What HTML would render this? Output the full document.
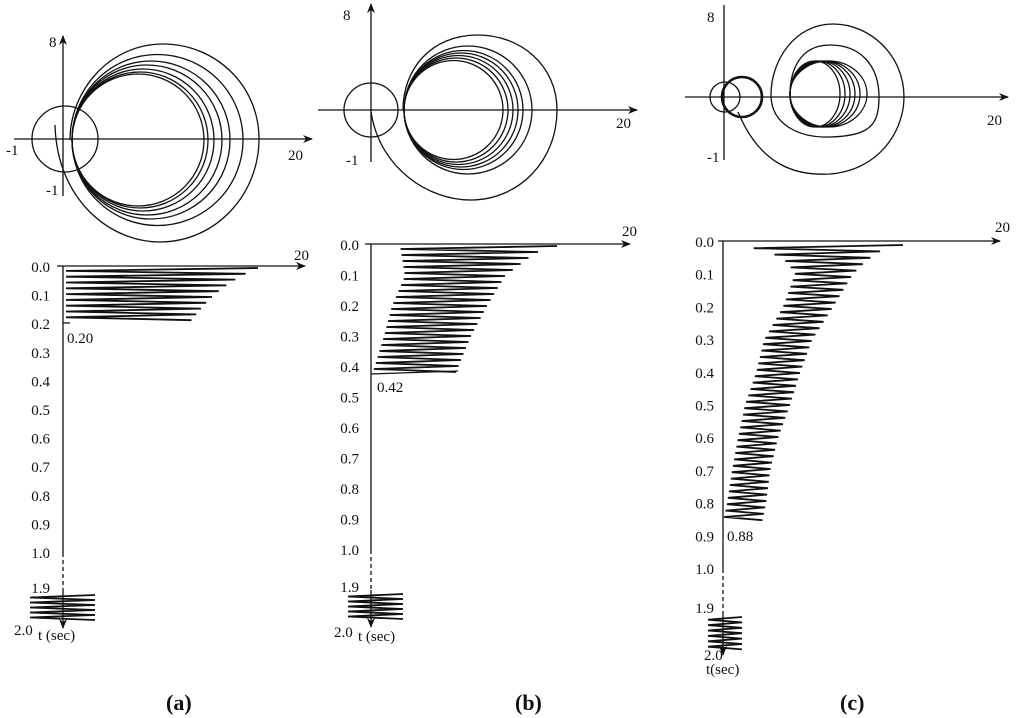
<!DOCTYPE html>
<html><head><meta charset="utf-8"><style>
html,body{margin:0;padding:0;background:#fff;}
svg{display:block;}
text{font-family:"Liberation Serif",serif;fill:#111;}
</style></head><body>
<svg id="s" width="1024" height="718" viewBox="0 0 1024 718" xmlns="http://www.w3.org/2000/svg">
<defs><marker id="ar" markerWidth="10" markerHeight="8" refX="9" refY="4" orient="auto" markerUnits="userSpaceOnUse"><path d="M0,0 L10,4 L0,8 L3,4 z" fill="#111"/></marker></defs>
<g fill="none" stroke="#111" stroke-width="1.3">
<!-- (a) top -->
<line x1="63" y1="196" x2="63" y2="36" marker-end="url(#ar)"/>
<line x1="14" y1="139" x2="312" y2="139" marker-end="url(#ar)"/>
<circle cx="65" cy="139" r="33"/>
<path d="M55,125 C57,200 110,242 160,242 C215,242 259,195 259,139 C259,85 215,44 163,44 C110,44 70,90 70,140"/>
<circle cx="157.5" cy="140" r="85.5"/><circle cx="151" cy="140" r="79"/><circle cx="147" cy="140" r="75"/>
<circle cx="143" cy="140" r="71"/><circle cx="140" cy="140" r="68"/><circle cx="138" cy="140" r="66"/>
<!-- (b) top -->
<line x1="371" y1="162" x2="371" y2="4" marker-end="url(#ar)"/>
<line x1="318" y1="110" x2="637" y2="110" marker-end="url(#ar)"/>
<circle cx="371" cy="110" r="27"/>
<path d="M371,112 C380,170 430,200 470,200 C520,200 557,160 557,110 C557,65 520,35 478,35 C430,35 403,70 403,110"/>
<circle cx="468" cy="110" r="64"/><circle cx="463.5" cy="110" r="59.5"/><circle cx="461" cy="110" r="57"/>
<circle cx="458.5" cy="110" r="54.5"/><circle cx="456" cy="110" r="52"/><circle cx="453.5" cy="110" r="49.5"/>
<!-- (c) top -->
<line x1="724" y1="160" x2="724" y2="5"/>
<line x1="685" y1="97" x2="1008" y2="97" marker-end="url(#ar)"/>
<circle cx="725" cy="97" r="15"/>
<circle cx="742" cy="97" r="20" stroke-width="2.6"/>
<path d="M738,112 C760,165 795,176 830,174 C880,170 904,130 904,97 C904,55 870,24 833,24 C795,24 771,60 771,95 C771,125 800,138 830,137 C870,136 879,125 879,97 C879,65 860,45 830,45 C800,45 790,70 790,95"/>
<ellipse cx="828.5" cy="94" rx="38.5" ry="33"/><ellipse cx="825" cy="94" rx="35" ry="33"/><ellipse cx="822.5" cy="94" rx="32.5" ry="33"/>
<ellipse cx="820" cy="94" rx="30" ry="33"/><ellipse cx="817.5" cy="94" rx="27.5" ry="33"/><ellipse cx="815" cy="94" rx="25" ry="33"/>
<!-- bottom axes -->
<line x1="57" y1="266" x2="305" y2="266" marker-end="url(#ar)"/>
<line x1="63" y1="266" x2="63" y2="553"/>
<line x1="63" y1="553" x2="63" y2="592" stroke-dasharray="4,3"/>
<line x1="63" y1="592" x2="63" y2="628" marker-end="url(#ar)"/>
<line x1="365" y1="244" x2="630" y2="244" marker-end="url(#ar)"/>
<line x1="371" y1="244" x2="371" y2="550"/>
<line x1="371" y1="550" x2="371" y2="590" stroke-dasharray="4,3"/>
<line x1="371" y1="590" x2="371" y2="627" marker-end="url(#ar)"/>
<line x1="718" y1="241" x2="1000" y2="241" marker-end="url(#ar)"/>
<line x1="723" y1="241" x2="723" y2="569"/>
<line x1="723" y1="569" x2="723" y2="612" stroke-dasharray="4,3"/>
<line x1="723" y1="612" x2="723" y2="655" marker-end="url(#ar)"/>
<line x1="63" y1="323" x2="70" y2="323"/>
<line x1="371" y1="374" x2="458" y2="371"/>
<g id="zz" stroke-width="1.8"></g>
</g>
<g font-size="15">
<text x="49" y="47">8</text><text x="6" y="155">-1</text><text x="46" y="195">-1</text><text x="288" y="160">20</text>
<text x="343" y="20">8</text><text x="346" y="165">-1</text><text x="616" y="128">20</text>
<text x="707" y="22">8</text><text x="707" y="162">-1</text><text x="987" y="125">20</text>
<text x="294" y="260">20</text><text x="622" y="236">20</text><text x="995" y="232">20</text>
<text x="67" y="343">0.20</text><text x="377" y="392">0.42</text><text x="727" y="541">0.88</text>
<g id="tk" text-anchor="end"></g>
<text x="14" y="635">2.0</text><text x="38" y="640">t (sec)</text>
<text x="334" y="637">2.0</text><text x="358" y="641">t (sec)</text>
<text x="704" y="660" text-anchor="start">2.0</text><text x="706" y="674">t(sec)</text>
</g>
<g font-size="22" font-weight="bold"><text x="166" y="710">(a)</text><text x="515" y="710">(b)</text><text x="840" y="710">(c)</text></g>
</svg>
<script>
var zz=document.getElementById('zz'),tk=document.getElementById('tk'),NS='http://www.w3.org/2000/svg';
function pl(pts){var p=document.createElementNS(NS,'polyline');p.setAttribute('points',pts.join(' '));zz.appendChild(p);}
function lerp(tab,y){for(var i=0;i<tab.length-1;i++){if(y<=tab[i+1][0]){var t=(y-tab[i][0])/(tab[i+1][0]-tab[i][0]);return tab[i][1]+t*(tab[i+1][1]-tab[i][1]);}}return tab[tab.length-1][1];}
function zig(y0,y1,d,L,R){var pts=[],y=y0,k=0;while(y<=y1){if(k%2==0)pts.push(lerp(R,y).toFixed(1)+','+y.toFixed(1));else pts.push(lerp(L,y).toFixed(1)+','+y.toFixed(1));y+=d/2;k++;}pl(pts);}
zig(268,322,5.8,[[268,66],[322,66]],[[268,258],[275,243],[281,233],[287,224],[295,214],[305,204],[322,190]]);
zig(595,622,5,[[0,30],[999,30]],[[0,95],[999,95]]);
zig(246,372,6,[[246,400],[276,405],[306,392],[336,384],[372,373]],[[246,557],[253,535],[276,505],[306,487],[336,471],[372,456]]);
zig(594,620,5,[[0,348],[999,348]],[[0,403],[999,403]]);
zig(245,522,6.4,[[245,740],[252,770],[262,787],[274,795],[307,783],[340,764],[373,756],[405,745],[438,738],[471,732],[504,727],[522,723]],[[245,903],[252,878],[262,865],[274,853],[307,833],[340,812],[373,800],[405,790],[438,778],[471,770],[504,766],[522,762]]);
zig(617,650,5.4,[[0,708],[999,708]],[[0,742],[999,742]]);
function ticks(x,y0,d,n){for(var i=0;i<=n;i++){var t=document.createElementNS(NS,'text');t.setAttribute('x',x);t.setAttribute('y',(y0+i*d+5).toFixed(1));t.textContent=(i/10).toFixed(1);tk.appendChild(t);}}
ticks(50,267,28.6,10);ticks(359,245,30.5,10);ticks(714,242,32.7,10);
function t2(x,y,s){var t=document.createElementNS(NS,'text');t.setAttribute('x',x);t.setAttribute('y',y);t.textContent=s;tk.appendChild(t);}
t2(50,593,'1.9');t2(359,592,'1.9');t2(714,613,'1.9');
</script>
</body></html>
